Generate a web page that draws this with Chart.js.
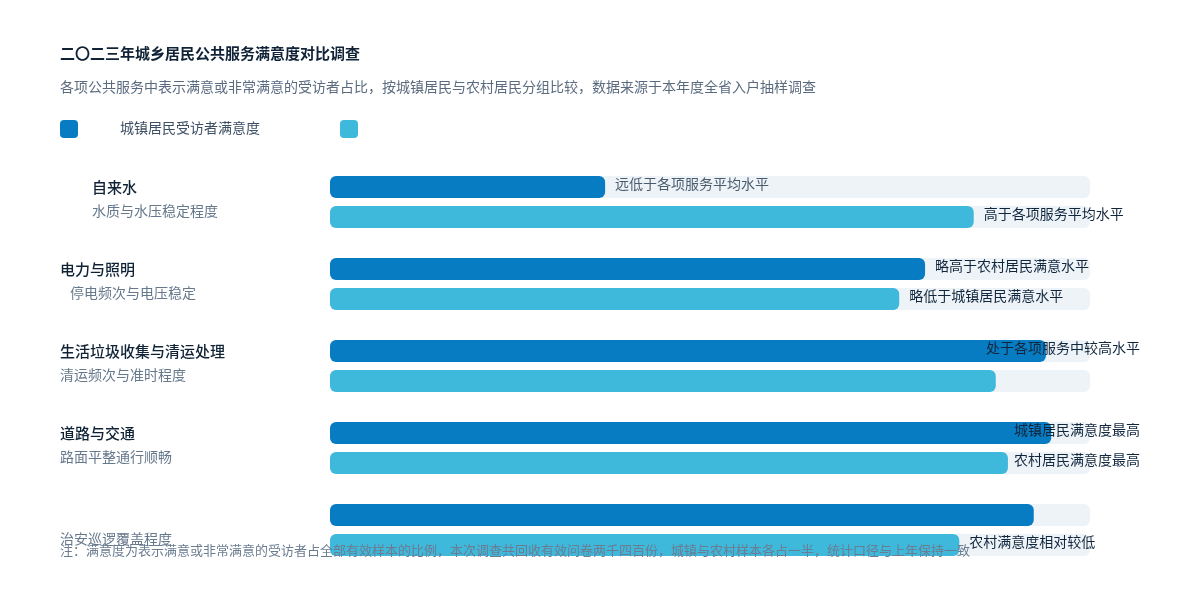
<html>
  <head>
    <meta charset="utf-8"/>
    <title>城乡居民公共服务满意度对比</title>
    <script src="https://cdn.jsdelivr.net/npm/chart.js@4.4.1/dist/chart.umd.min.js"></script>
    <style>
      body { margin:0; background:#ffffff; }
      #wrap { width:1200px; height:590px; }
    </style>
  </head>
  <body>
    <div id="wrap"><canvas id="myChart" width="1200" height="590"></canvas></div>
    <script>
      // ----- data -----
      var chartTitle = '二〇二三年城乡居民公共服务满意度对比调查';
      var chartSubtitle = '各项公共服务中表示满意或非常满意的受访者占比，按城镇居民与农村居民分组比较，数据来源于本年度全省入户抽样调查';
      var footNote = '注：满意度为表示满意或非常满意的受访者占全部有效样本的比例，本次调查共回收有效问卷两千四百份，城镇与农村样本各占一半，统计口径与上年保持一致';
      var seriesNames = ['城镇居民受访者满意度', '农村居民受访者满意度'];
      var categories = ['自来水', '电力与照明', '生活垃圾收集与清运处理', '道路与交通', ''];
      var categoryNotes = ['水质与水压稳定程度', '停电频次与电压稳定', '清运频次与准时程度', '路面平整通行顺畅', '治安巡逻覆盖程度'];
      var urbanValues = [36.2, 78.3, 94.2, 94.9, 92.6];
      var ruralValues = [84.7, 74.9, 87.6, 89.2, 82.8];
      var urbanLabels = ['远低于各项服务平均水平', '略高于农村居民满意水平', '处于各项服务中较高水平', '城镇居民满意度最高', ''];
      var ruralLabels = ['高于各项服务平均水平', '略低于城镇居民满意水平', '', '农村居民满意度最高', '农村满意度相对较低'];
      var maxValue = 100;

      var colors = ['#087cc2', '#3eb8db'];
      var FONT = "'Noto Sans CJK SC', 'DejaVu Sans', sans-serif";

      // grey track behind every bar, full scale length
      var trackPlugin = {
        id: 'tracks',
        beforeDatasetsDraw: function(chart) {
          var ctx = chart.ctx;
          var x0 = chart.scales.x.getPixelForValue(0);
          var x1 = chart.scales.x.getPixelForValue(maxValue);
          ctx.save();
          ctx.fillStyle = '#eef3f8';
          chart.data.datasets.forEach(function(ds, di) {
            chart.getDatasetMeta(di).data.forEach(function(bar) {
              ctx.beginPath();
              ctx.roundRect(x0, bar.y - bar.height / 2, x1 - x0, bar.height, 6);
              ctx.fill();
            });
          });
          ctx.restore();
        }
      };

      var textPlugin = {
        id: 'texts',
        afterDatasetsDraw: function(chart) {
          var ctx = chart.ctx;
          var yScale = chart.scales.y;
          ctx.save();
          ctx.textBaseline = 'middle';
          ctx.textAlign = 'left';

          // title + subtitle
          ctx.fillStyle = '#0f2236';
          ctx.font = '600 15px ' + FONT;
          ctx.fillText(chartTitle, 60, 53);
          ctx.fillStyle = '#5b6b7f';
          ctx.font = '14px ' + FONT;
          ctx.fillText(chartSubtitle, 60, 87);

          // legend
          colors.forEach(function(c, i) {
            ctx.fillStyle = c;
            ctx.beginPath();
            ctx.roundRect(60 + i * 280, 120, 18, 18, 4);
            ctx.fill();
          });
          ctx.fillStyle = '#3d4f63';
          ctx.font = '14px ' + FONT;
          ctx.fillText(seriesNames[0], 120, 128);

          // category labels
          var indent = [32, 0, 0, 0, 0];
          var noteIndent = [32, 10, 0, 0, 0];
          categories.forEach(function(name, i) {
            var yc = yScale.getPixelForValue(i);
            ctx.fillStyle = '#0f2236';
            ctx.font = '500 15px ' + FONT;
            ctx.fillText(name, 60 + indent[i], yc - 15);
            ctx.fillStyle = '#66788c';
            ctx.font = '14px ' + FONT;
            ctx.fillText(categoryNotes[i], 60 + noteIndent[i], yc + 9);
          });

          // value labels
          var allLabels = [urbanLabels, ruralLabels];
          ctx.font = '14px ' + FONT;
          chart.data.datasets.forEach(function(ds, di) {
            chart.getDatasetMeta(di).data.forEach(function(bar, i) {
              var txt = allLabels[di][i];
              if (!txt) return;
              var w = ctx.measureText(txt).width;
              var x = Math.min(bar.x + 10, 1140 - w);
              ctx.fillStyle = (di === 0 && i === 0) ? '#4a5b6e' : '#10263d';
              ctx.fillText(txt, x, bar.y - 3);
            });
          });

          // footnote on top of everything
          ctx.fillStyle = '#6b7d91';
          ctx.font = '13px ' + FONT;
          ctx.fillText(footNote, 60, 550);
          ctx.restore();
        }
      };

      var ctx = document.getElementById('myChart').getContext('2d');
      var myChart = new Chart(ctx, {
        type: 'bar',
        data: {
          labels: categories,
          datasets: [
            { label: seriesNames[0], data: urbanValues, backgroundColor: colors[0] },
            { label: seriesNames[1], data: ruralValues, backgroundColor: colors[1] }
          ]
        },
        options: {
          indexAxis: 'y',
          responsive: false,
          animation: false,
          layout: { padding: { left: 330, right: 110, top: 161, bottom: 19 } },
          datasets: { bar: { categoryPercentage: 60 / 82, barPercentage: 22 / 30, borderRadius: 6, borderSkipped: false } },
          scales: {
            x: { display: false, min: 0, max: maxValue },
            y: { display: false }
          },
          plugins: { legend: { display: false }, tooltip: { enabled: false } }
        },
        plugins: [trackPlugin, textPlugin]
      });
    </script>
  </body>
</html>
